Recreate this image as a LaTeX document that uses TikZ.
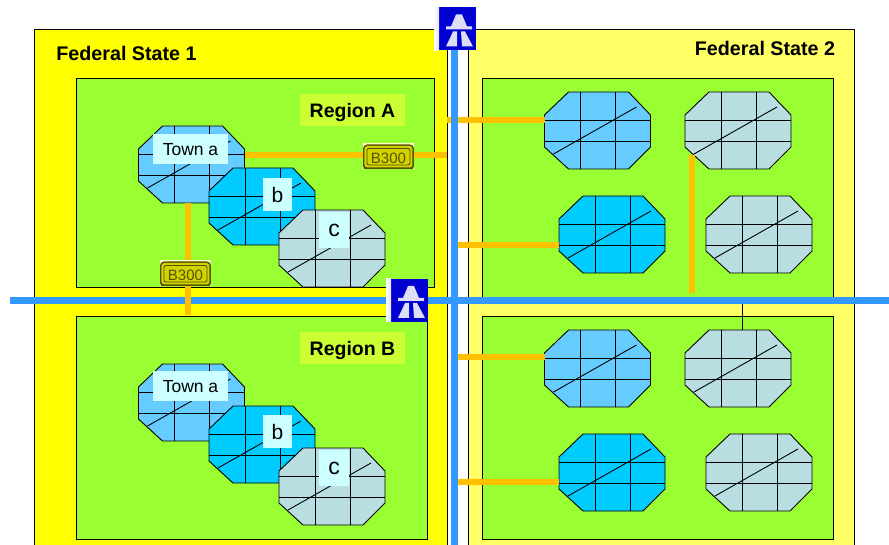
\documentclass[tikz,border=0pt]{standalone}
\usepackage{fontspec}
\setmainfont{Liberation Sans}
\usetikzlibrary{positioning}
\definecolor{stateyellow}{HTML}{FFFF00}
\definecolor{paleyellow}{HTML}{FFFF66}
\definecolor{regiongreen}{HTML}{99FF33}
\definecolor{labelgreen}{HTML}{CCFF33}
\definecolor{roadblue}{HTML}{3399FF}
\definecolor{linkorange}{HTML}{FFC000}
\definecolor{townsky}{HTML}{66CCFF}
\definecolor{towncyan}{HTML}{00CCFF}
\definecolor{towngrey}{HTML}{B9DEE2}
\definecolor{labelcyan}{HTML}{CCFFFF}
\definecolor{signcream}{HTML}{FFFFCC}
\definecolor{signolive}{HTML}{555500}
\definecolor{signyellow}{HTML}{D2D200}
\definecolor{iconblue}{HTML}{0000D0}
\definecolor{iconwhite}{HTML}{DDDDF8}
\tikzset{
  every picture/.style = {
    x = 1pt,
    y = -1pt,
    line width = 0.9pt
  }
  ,
  fedstate/.style = {
    draw,
    rectangle
  }
  ,
  fedlabel/.style = {
    font = \fontsize{19.7}{22}\selectfont\bfseries,
    inner sep = 0pt
  }
  ,
  region/.style = {
    draw,
    rectangle,
    fill = regiongreen
  }
  , % labels of regions
  regionlabel/.style = {
    fill = labelgreen,
    font = \fontsize{19.5}{22}\selectfont\bfseries,
    minimum width = 105pt,
    minimum height = 32pt,
    inner sep = 0pt,
    text depth = 0pt
  }
  ,
  motorway/.style = {
    draw = none,
    fill = roadblue
  }
  ,
  link/.style = {
    draw = linkorange,
    line width = 5.5pt
  }
  ,
  town/.style = {
    rectangle,
    minimum width = 108pt,
    minimum height = 79pt,
    inner sep = 0pt,
    outer sep = -1pt,
    path picture = {
      \filldraw[fill=#1] (-29,-38.5) -- (31,-38.5) -- (53,-15.5) -- (53,16.5) -- (31,38.5)
        -- (-29,38.5) -- (-53,16.5) -- (-53,-15.5) -- cycle;
      \draw (-17,-38.5) -- (-17,38.5);
      \draw (18,-38.5) -- (18,38.5);
      \draw (-53,-10) -- (53,-10);
      \draw (-53,11) -- (53,11);
      \draw (-44,23.5) -- (39,-23.5);
    }
  }
  , % labels of towns
  townlabel/.style = {
    fill = labelcyan,
    inner sep = 0pt,
    text depth = 0pt
  }
  ,
  roadsign/.style = {
    rectangle,
    fill = signcream,
    text = signolive,
    font = \fontsize{15}{15}\selectfont,
    minimum width = 51pt,
    minimum height = 26pt,
    inner sep = 0pt,
    text height = 15.5pt,
    text depth = 0pt,
    path picture = {
      \fill[signolive, rounded corners = 4pt] (-8,-19.25) -- (43,-19.25) -- (43,6.25)
        -- (-8,6.25) -- cycle;
      \fill[signyellow, rounded corners = 3pt] (-6.5,-17.75) -- (41.5,-17.75) -- (41.5,3.75)
        -- (-6.5,3.75) -- cycle;
      \draw[signolive, rounded corners = 2pt] (-4,-15.25) -- (39,-15.25) -- (39,1.25)
        -- (-4,1.25) -- cycle;
    }
  }
  ,
  motorwayicon/.style = {
    rectangle,
    fill = iconblue,
    minimum width = 42pt,
    minimum height = 43pt,
    inner sep = 0pt,
    path picture = {
      \shade[left color=white, right color=iconblue] (-21,-21.5) -- (-16,-21.5) -- (-16,21.5)
        -- (-21,21.5) -- cycle;
      \fill[iconwhite] (1,-14.5) -- (7,-14.5) -- (12,-2.5) -- (17,-2.5) -- (17,0.5)
        -- (-9,0.5) -- (-9,-2.5) -- (-4,-2.5) -- cycle;
      \fill[iconwhite] (-2,2.5) -- (2,2.5) -- (2,17.5) -- (-9,17.5) -- cycle;
      \fill[iconwhite] (6,2.5) -- (10,2.5) -- (18,17.5) -- (7,17.5) -- cycle;
    }
  }
}

\begin{document}
\begin{tikzpicture}
\useasboundingbox (0,0) rectangle (889,545);
\clip (0,0) rectangle (889,545);

\path[fedstate, fill=stateyellow] (34,29) rectangle (447,560);
\path[fedstate, fill=paleyellow] (468,29) rectangle (854,560);
\node[fedlabel] at (126.5,53) (fa) {Federal State 1};
\node[fedlabel] at (765,48) (fb) {Federal State 2};

\path[region] (76,78) rectangle (434,287);
\path[region] (76,316) rectangle (427,539);
\path[region] (482,78) rectangle (833,300);
\path[region] (482,316) rectangle (833,539);
\node[regionlabel] at (352.5,110) (ra) {Region A};
\node[regionlabel] at (352.5,348) (rb) {Region B};

% towns: name, x, y, colour
\foreach \n/\x/\y/\c in {
  q1/597.5/130.5/townsky, q2/738/130.5/towngrey, q3/612/234.5/towncyan, q4/759/234.5/towngrey,
  q5/597.5/368.5/townsky, q6/738/368.5/towngrey, q7/612/472.5/towncyan, q8/759/472.5/towngrey}
  \node[town=\c] at (\x,\y) (\n) {};

\coordinate (ea) at (447,155);
\coordinate (va) at (188,315);
\coordinate (oa) at (692,155);
\coordinate (ob) at (692,293);
\coordinate (ca) at (447,120);
\coordinate (cb) at (458,245);
\coordinate (cc) at (458,357);
\coordinate (cd) at (458,482);
\coordinate (ce) at (742,304);

\draw[link] (ca) -- (q1.west |- ca);

% motorways
\fill[motorway] (10,297) rectangle (889,304);
\fill[motorway] (451,30) rectangle (458,545);

\draw[link] (cb) -- (q3.west |- cb);
\draw[link] (cc) -- (q5.west |- cc);
\draw[link] (cd) -- (q7.west |- cd);
\draw[link] (oa) -- (ob);
\draw (ce) -- (q6.north -| ce);

\node[town=townsky] at (191.5,164.5) (ta) {};
\draw[link] (ta.south -| va) -- (va);
\draw[link] (ta.east |- ea) -- (ea);

% towns with their labels
\node[townlabel, minimum width=75pt, minimum height=30pt, font=\fontsize{17.5}{17}\selectfont] at (190.5,149) (la) {Town a};
\node[town=towncyan] at (262,206.5) (tb) {};
\node[townlabel, minimum width=29pt, minimum height=33pt, font=\fontsize{21}{21}\selectfont] at (277.5,194.5) (lb) {b};
\node[town=towngrey] at (332,248.5) (tc) {};
\node[townlabel, minimum width=30pt, minimum height=36pt, font=\fontsize{23}{23}\selectfont] at (334,230) (lc) {c};

\node[town=townsky] at (191.5,402.5) (td) {};
\node[townlabel, minimum width=75pt, minimum height=30pt, font=\fontsize{17.5}{17}\selectfont] at (190.5,386) (ld) {Town a};
\node[town=towncyan] at (262,444.5) (te) {};
\node[townlabel, minimum width=29pt, minimum height=33pt, font=\fontsize{21}{21}\selectfont] at (277.5,431.5) (le) {b};
\node[town=towngrey] at (332,486.5) (tf) {};
\node[townlabel, minimum width=30pt, minimum height=36pt, font=\fontsize{23}{23}\selectfont] at (334,468) (lf) {c};

\node[roadsign] at (388.5,156) (sa) {B300};
\node[roadsign] at (185.5,273) (sb) {B300};

\node[motorwayicon] at (455,29) (ia) {};
\node[motorwayicon] at (407,300.5) (ib) {};
\end{tikzpicture}
\end{document}
